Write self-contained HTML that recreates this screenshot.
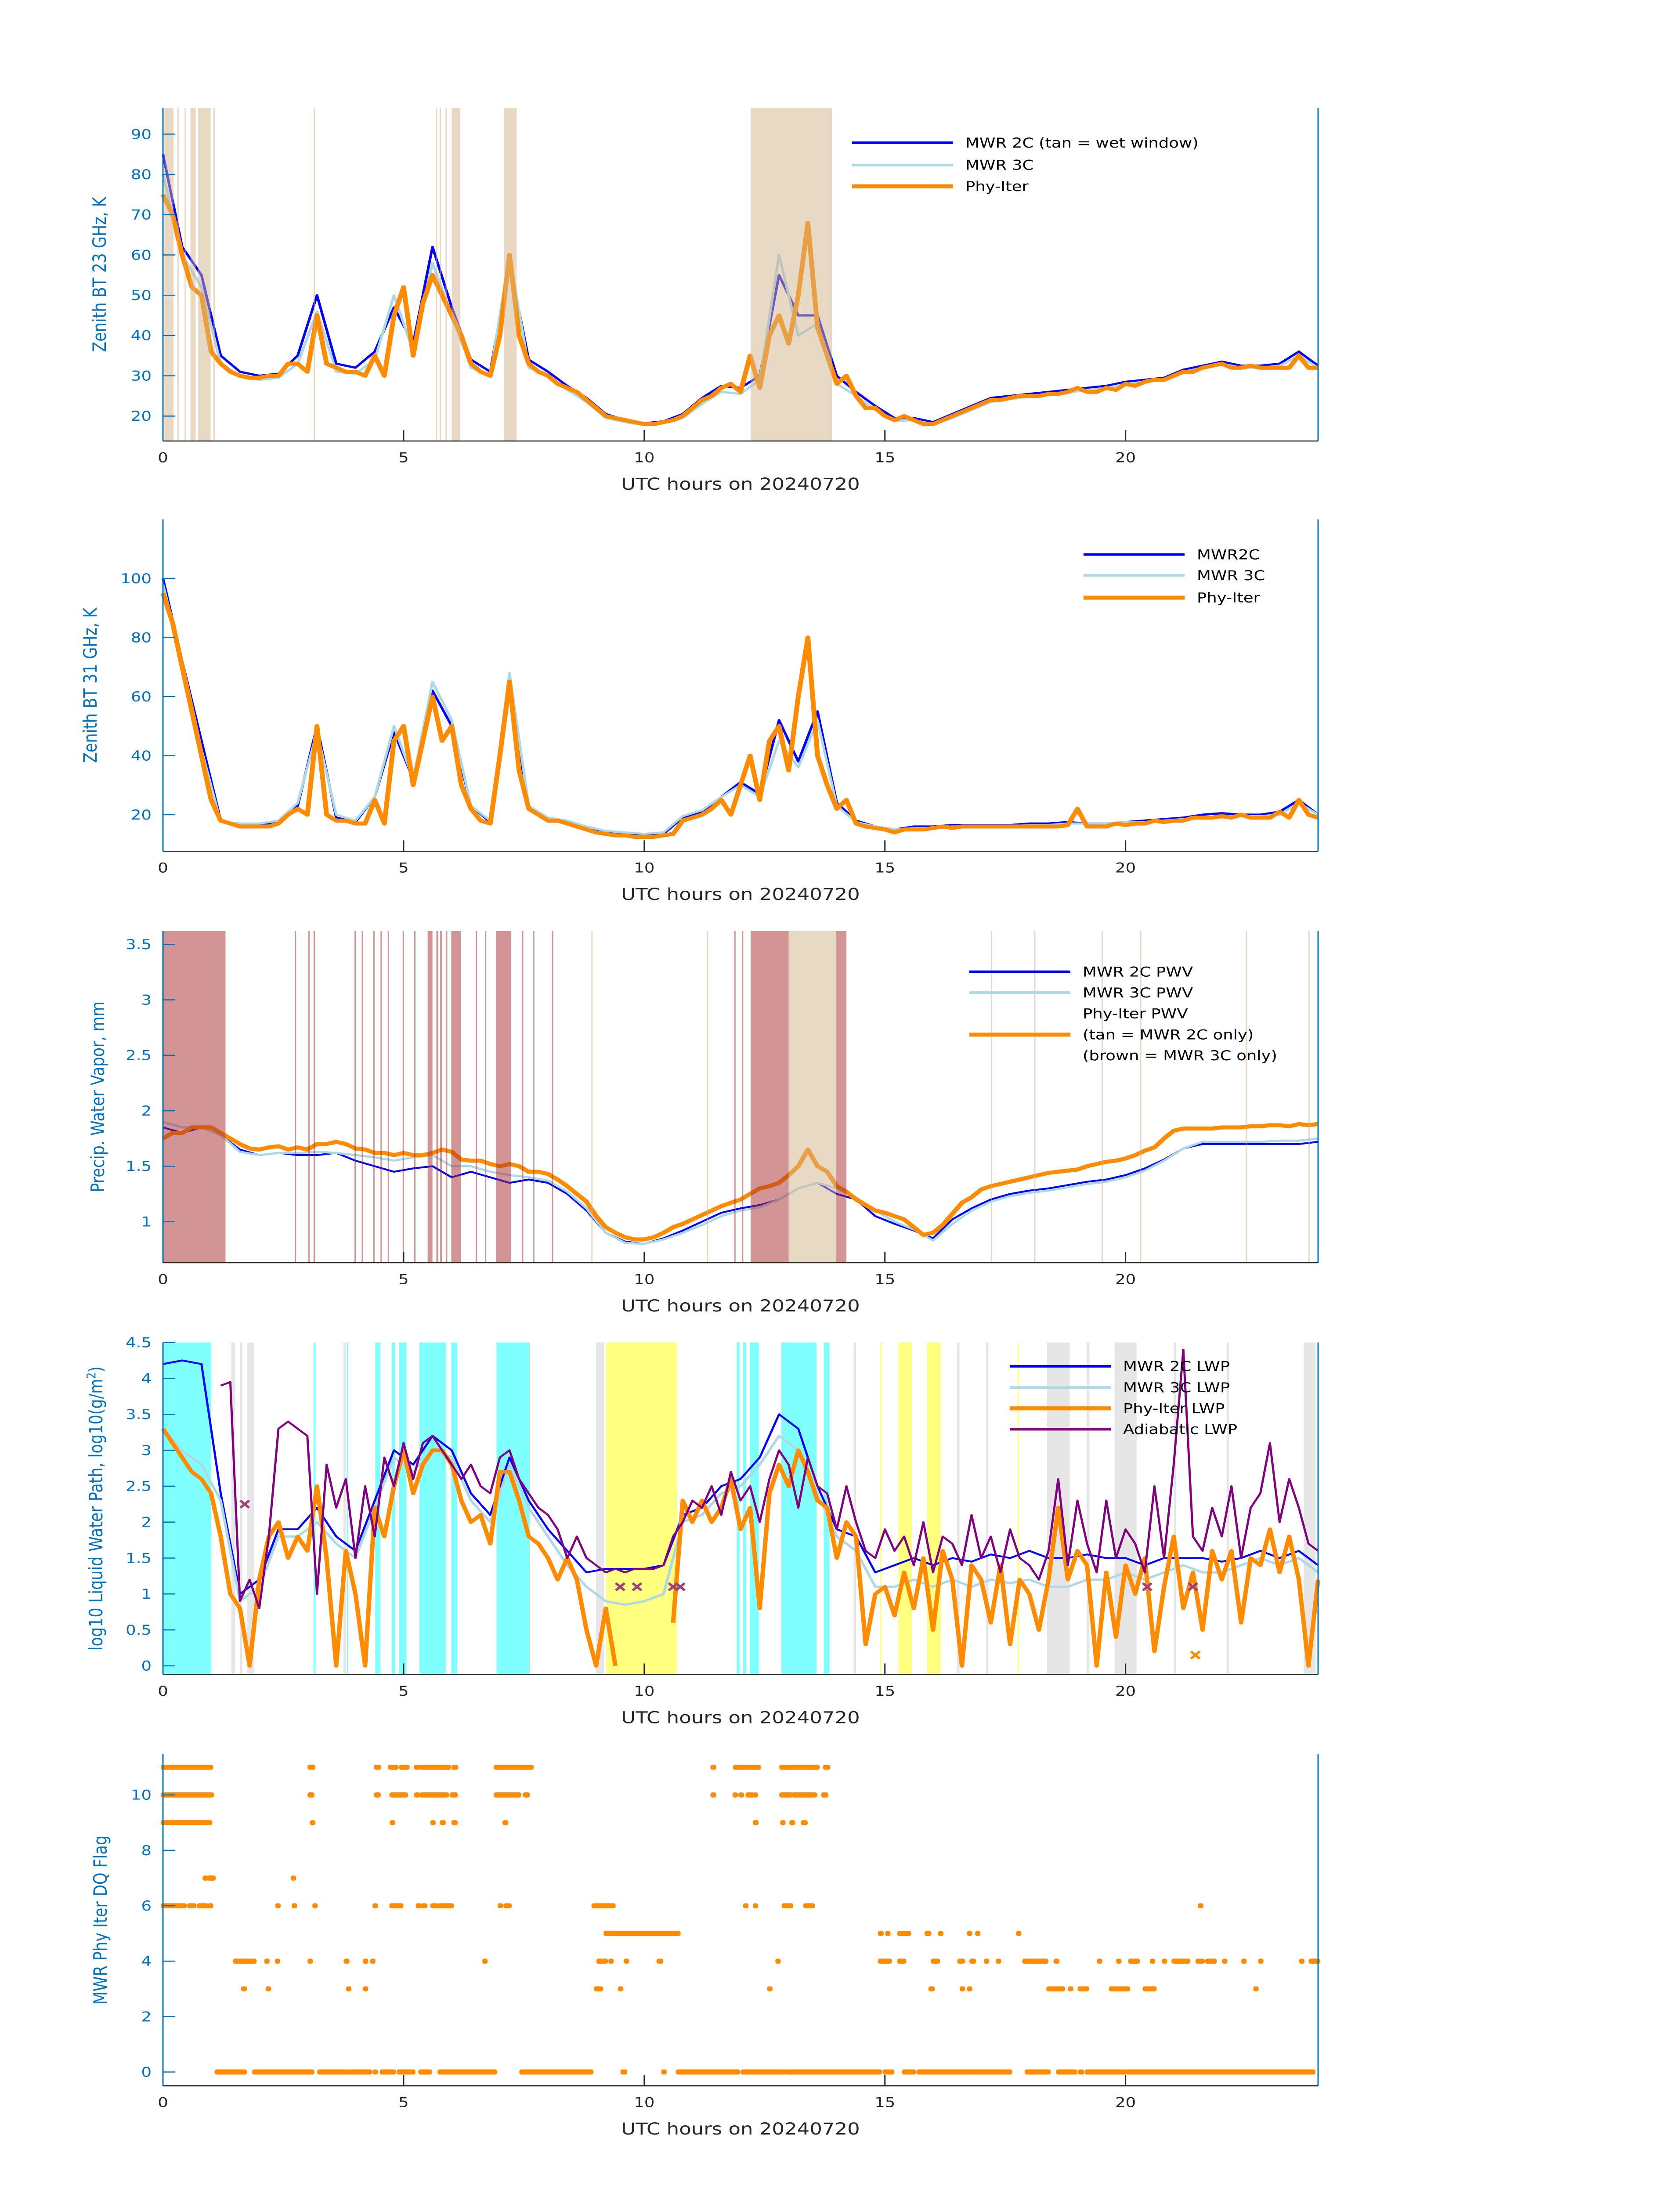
<!DOCTYPE html>
<html><head><meta charset="utf-8"><title>MWR Phy-Iter 20240720</title>
<style>html,body{margin:0;padding:0;background:#fff;width:100vw;height:100vh;overflow:hidden}svg{display:block;overflow:hidden;width:100vw;height:100vh}text{font-family:"DejaVu Sans","Liberation Sans",sans-serif}</style></head>
<body>
<svg id="fig" xmlns="http://www.w3.org/2000/svg" viewBox="0 0 3825 6000" preserveAspectRatio="none"></svg>
<script>
// ---------- DATA (time step 0.2 h for Phy-Iter / adiabatic, 0.4 h for MWR 2C/3C) ----------
const xTicks=[0,5,10,15,20];
const bt23Ticks=[20,30,40,50,60,70,80,90];
const bt31Ticks=[20,40,60,80,100];
const pwvTicks=[1,1.5,2,2.5,3,3.5];
const lwpTicks=[0,0.5,1,1.5,2,2.5,3,3.5,4,4.5];
const flagTicks=[0,2,4,6,8,10];

const bt23Phy=[75,70,60,52,50,36,33,31,30,29.5, 29.5,30,30,33,33,31,45,33,32,31, 31,30,35,30,45,52,35,48,55,50, 45,40,33,31,30,40,60,40,33,31, 30,28,27,26,24,22,20,19.5,19,18.5, 18,18,18.5,19,20,22,24,25,27,28, 26,35,27,40,45,38,50,68,42,35, 28,30,25,22,22,20,19,20,19,18, 18,19,20,21,22,23,24,24,24.5,25, 25,25,25.5,25.5,26,27,26,26,27,26.5, 28,27.5,28.5,29,29,30,31,31,32,32.5, 33,32,32,32.5,32,32,32,32,35,32, 32];
const bt23C2=[85,62,55,35,31,30,30.5,35,50,33, 32,36,47,38,62,47,34,31,58,34, 31,27.5,24.5,20.5,19,18.2,18.7,20.5,24.5,27.5, 27,30,55,45,45,30,26,22.5,19.5,19.5, 18.5,20.5,22.5,24.5,25,25.5,26,26.5,27,27.5, 28.5,29,29.5,31.5,32.5,33.5,32.5,32.5,33,36, 32.5];
const bt23C3=[80,60,52,33,30,29,29.5,33,46,31, 30.5,34,50,36,58,45,32,30,60,32, 30,26.5,23.5,19.5,18.5,17.8,18.3,19.5,23,26, 25.5,29,60,40,43,28,25,21.5,18.8,19, 18,19.5,21.5,23.5,24.2,24.8,25.2,25.8,26.5,27, 28,28.5,29,31,32,33,32,32,32.5,35, 32];

const bt31Phy=[95,85,70,55,40,25,18,17,16,16, 16,16,17,20,22,20,50,20,18,18, 17,17,25,17,45,50,30,45,60,45, 50,30,22,18,17,40,65,35,22,20, 18,18,17,16,15,14,13.5,13,13,12.5, 12.5,12.5,13,13.5,18,19,20,22,25,20, 30,40,25,45,50,35,60,80,40,30, 22,25,17,16,15.5,15,14,15,15,15, 15.5,16,15.5,16,16,16,16,16,16,16, 16,16,16,16,16.5,22,16,16,16,17, 16.5,17,17,18,17.5,18,18,19,19,19, 19.5,19,20,19,19,19,21,19,25,20, 19];
const bt31C2=[100,72,45,18,16.5,16.5,17.5,23,50,19, 17.5,26,48,32,62,50,23,17.5,62,22, 18.5,17.5,15.5,14,13.5,13,13.5,19,21,26, 31,27,52,38,55,24,18,16,15,16, 16,16.5,16.5,16.5,16.5,17,17,17.5,17,17, 17.5,18,18.5,19,20,20.5,20,20,21,25, 20];
const bt31C3=[98,72,42,17.5,17,17,18,24,48,20, 18,26,50,32,65,52,23,18,68,23, 19,18,16,14.5,14,13.5,14,19.5,21.5,26, 30,26,45,36,52,23,17.5,16,15,15.5, 15.5,16,16,16,16,16.5,16.5,17,17,17, 17.5,17.5,18,18.5,19,19.5,19.5,19.5,20,24, 20];

const pwvPhy=[1.75,1.8,1.8,1.85,1.85,1.85,1.8,1.75,1.7,1.66, 1.65,1.67,1.68,1.65,1.67,1.65,1.7,1.7,1.72,1.7, 1.66,1.65,1.62,1.62,1.6,1.62,1.6,1.6,1.62,1.65, 1.63,1.56,1.55,1.55,1.52,1.5,1.52,1.5,1.45,1.45, 1.43,1.38,1.32,1.25,1.18,1.05,0.95,0.9,0.86,0.84, 0.84,0.86,0.9,0.95,0.98,1.02,1.06,1.1,1.14,1.17, 1.2,1.25,1.3,1.32,1.35,1.42,1.5,1.65,1.5,1.45, 1.32,1.27,1.2,1.15,1.1,1.08,1.05,1.02,0.95,0.88, 0.9,0.97,1.07,1.17,1.22,1.29,1.32,1.34,1.36,1.38, 1.4,1.42,1.44,1.45,1.46,1.47,1.5,1.52,1.54,1.55, 1.57,1.6,1.64,1.67,1.75,1.82,1.84,1.84,1.84,1.84, 1.85,1.85,1.85,1.86,1.86,1.87,1.87,1.86,1.88,1.87, 1.88];
const pwvC2=[1.85,1.8,1.85,1.78,1.65,1.6,1.62,1.6,1.6,1.62, 1.55,1.5,1.45,1.48,1.5,1.4,1.45,1.4,1.35,1.38, 1.35,1.25,1.1,0.9,0.82,0.8,0.85,0.92,1.0,1.08, 1.12,1.15,1.2,1.3,1.35,1.25,1.2,1.05,0.98,0.92, 0.85,1.02,1.12,1.2,1.25,1.28,1.3,1.33,1.36,1.38, 1.42,1.48,1.56,1.66,1.7,1.7,1.7,1.7,1.7,1.7, 1.72];
const pwvC3=[1.9,1.85,1.85,1.78,1.63,1.6,1.62,1.62,1.63,1.62, 1.6,1.58,1.55,1.58,1.6,1.5,1.5,1.45,1.42,1.4, 1.37,1.27,1.12,0.9,0.81,0.8,0.84,0.9,0.97,1.05, 1.1,1.13,1.2,1.3,1.35,1.3,1.22,1.1,1.0,0.93, 0.83,0.98,1.1,1.18,1.23,1.26,1.28,1.31,1.34,1.36, 1.4,1.46,1.55,1.66,1.72,1.72,1.72,1.72,1.73,1.73, 1.75];

const lwpPhy=[3.3,3.1,2.9,2.7,2.6,2.4,1.8,1.0,0.8,0.0, 1.2,1.8,2.0,1.5,1.8,1.6,2.5,1.5,0.0,1.6, 1.0,0.0,2.2,1.8,2.5,3.0,2.4,2.8,3.0,3.0, 2.8,2.3,2.0,2.1,1.7,2.7,2.7,2.3,1.8,1.7, 1.5,1.2,1.5,1.2,0.5,0.0,0.8,0.0,null,null, null,null,null,0.6,2.3,2.0,2.3,2.0,2.2,2.6, 1.9,2.2,0.8,2.4,2.8,2.5,3.0,2.7,2.3,2.2, 1.5,2.0,1.8,0.3,1.0,1.1,0.7,1.3,0.8,1.5, 0.5,1.6,1.2,0.0,1.4,1.2,0.6,1.4,0.3,1.2, 1.0,0.5,1.2,2.2,1.2,1.6,1.4,0.0,1.3,0.4, 1.4,1.0,1.5,0.2,1.1,1.8,0.8,1.3,0.5,1.6, 1.2,1.6,0.6,1.5,1.4,1.9,1.3,1.8,1.2,0.0, 1.2];
const lwpC2=[4.2,4.25,4.2,2.4,1.0,1.2,1.9,1.9,2.2,1.8, 1.6,2.3,3.0,2.8,3.2,3.0,2.4,2.1,2.9,2.3, 1.9,1.6,1.3,1.35,1.35,1.35,1.4,2.1,2.2,2.5, 2.6,2.9,3.5,3.3,2.5,1.9,1.8,1.3,1.4,1.5, 1.4,1.5,1.45,1.55,1.5,1.6,1.5,1.5,1.55,1.5, 1.5,1.4,1.5,1.5,1.5,1.45,1.5,1.6,1.5,1.6, 1.4];
const lwpC3=[3.3,3.0,2.8,2.3,0.9,1.1,1.8,1.8,2.0,1.7, 1.5,2.2,2.9,2.7,3.0,2.9,2.3,2.0,2.8,2.2, 1.8,1.4,1.1,0.9,0.85,0.9,1.0,2.0,2.1,2.4, 2.5,2.8,3.2,3.0,2.4,1.8,1.6,1.1,1.1,1.2, 1.1,1.2,1.1,1.2,1.15,1.2,1.1,1.1,1.2,1.2, 1.3,1.2,1.3,1.4,1.3,1.3,1.4,1.5,1.4,1.5, 1.3];
const lwpAdiab=[null,null,null,null,null,null,3.9,3.95,0.9,1.2, 0.8,1.8,3.3,3.4,3.3,3.2,1.0,2.8,2.2,2.6, 1.5,2.5,1.8,2.9,2.5,3.1,2.6,3.1,3.2,3.0, 2.8,2.6,2.8,2.5,2.4,2.9,3.0,2.6,2.4,2.2, 2.1,1.9,1.5,1.8,1.5,1.4,1.3,1.35,1.3,1.35, 1.35,1.35,1.4,1.8,2.0,2.3,2.2,2.5,2.1,2.7, 2.3,2.5,2.0,2.6,3.0,2.8,2.2,2.9,2.5,2.4, 1.9,2.5,2.0,1.6,1.5,1.9,1.6,1.8,1.4,2.0, 1.3,1.8,1.7,1.4,2.1,1.5,1.8,1.3,1.9,1.5, 1.4,1.2,1.6,2.6,1.4,2.3,1.7,1.3,2.3,1.5, 1.9,1.7,1.3,2.5,1.5,2.8,4.4,1.8,1.6,2.2, 1.8,2.5,1.5,2.2,2.4,3.1,2.0,2.6,2.2,1.7, 1.6];
const lwpCrossT=[1.7,9.5,9.85,10.6,10.75,20.45,21.4];
const lwpCrossV=[2.25,1.1,1.1,1.1,1.1,1.1,1.1];
const lwpCrossOT=[21.45];
const lwpCrossOV=[0.15];

// shading bands [start,end] in hours
const wet23=[[0.03,0.22],[0.3,0.31],[0.45,0.46],[0.57,0.68],[0.73,0.99],[1.05,1.06],[3.13,3.15],[5.67,5.69],[5.75,5.77],[5.87,5.89],[6.0,6.18],[7.09,7.35],[12.21,13.9]];
const pwvBrown=[[0,1.3],[2.74,2.76],[3.02,3.04],[3.13,3.15],[3.98,4.0],[4.13,4.15],[4.37,4.39],[4.52,4.54],[4.67,4.69],[4.98,5.0],[5.22,5.24],[5.5,5.6],[5.68,5.72],[5.76,5.8],[5.88,5.9],[5.99,6.19],[6.5,6.52],[6.69,6.71],[6.92,7.23],[7.46,7.48],[7.69,7.71],[8.08,8.1],[11.87,11.89],[12.03,12.05],[12.21,13.0],[13.99,14.2]];
const pwvTan=[[13.0,13.99],[8.9,8.91],[11.3,11.31],[17.2,17.21],[18.1,18.11],[19.5,19.51],[20.3,20.31],[22.5,22.51],[23.8,23.81]];
const lwpCyan=[[0,1.0],[3.13,3.17],[3.82,3.84],[4.41,4.52],[4.75,4.82],[4.9,5.06],[5.33,5.88],[5.99,6.11],[6.93,7.62],[11.92,11.98],[12.05,12.12],[12.2,12.38],[12.85,13.58],[13.73,13.85]];
const lwpYellow=[[9.21,10.68],[14.9,14.93],[15.28,15.56],[15.87,16.16],[17.76,17.78]];
const lwpGrey=[[1.42,1.5],[1.6,1.65],[1.75,1.89],[3.75,3.8],[9.0,9.16],[14.35,14.4],[16.5,16.55],[17.1,17.15],[18.37,18.84],[19.2,19.25],[19.77,20.23],[21.0,21.05],[22.1,22.15],[23.7,23.95]];

// DQ flag spans per level, [start,end] hours
const flag11=[[0,1.0],[3.05,3.12],[4.43,4.49],[4.72,4.85],[4.95,5.08],[5.26,5.3],[5.37,5.94],[6.04,6.09],[6.92,7.66],[11.42,11.45],[11.89,11.95],[11.98,12.1],[12.15,12.38],[12.85,13.6],[13.76,13.82]];
const flag10=[[0,1.02],[3.05,3.1],[4.43,4.48],[4.75,5.05],[5.26,5.3],[5.37,5.9],[6.0,6.08],[6.92,7.4],[7.52,7.58],[11.42,11.45],[11.88,11.9],[12.0,12.03],[12.15,12.25],[12.3,12.32],[12.85,13.05],[13.1,13.55],[13.72,13.78]];
const flag9=[[0,0.98],[3.1,3.12],[4.76,4.78],[5.6,5.62],[5.8,5.83],[6.04,6.08],[7.1,7.13],[12.3,12.33],[12.87,12.89],[13.06,13.09],[13.3,13.35]];
const flag7=[[0.87,0.89],[0.95,1.05],[2.7,2.72]];
const flag6=[[0,0.35],[0.4,0.45],[0.55,0.65],[0.75,0.9],[0.97,1.0],[2.38,2.4],[2.72,2.74],[3.15,3.17],[4.4,4.42],[4.75,4.95],[5.3,5.33],[5.4,5.45],[5.6,5.68],[5.75,6.0],[7.0,7.02],[7.12,7.2],[8.95,9.3],[9.34,9.36],[12.1,12.12],[12.3,12.32],[12.9,13.05],[13.35,13.5],[21.55,21.57]];
const flag5=[[9.2,10.71],[14.9,14.93],[15.05,15.07],[15.3,15.5],[15.87,15.92],[16.15,16.17],[16.75,16.77],[16.92,16.94],[17.77,17.79]];
const flag4=[[1.5,1.55],[1.6,1.9],[2.15,2.17],[2.37,2.39],[3.05,3.07],[3.8,3.83],[4.2,4.22],[4.35,4.37],[6.68,6.7],[9.05,9.2],[9.3,9.32],[9.62,9.64],[10.3,10.35],[12.77,12.79],[14.9,15.1],[15.3,15.4],[16.0,16.1],[16.55,16.62],[16.8,16.85],[17.1,17.12],[17.35,17.37],[17.9,18.35],[18.55,18.58],[19.45,19.47],[19.85,19.87],[20.1,20.25],[20.55,20.57],[20.8,20.82],[21.0,21.3],[21.5,21.6],[21.7,21.85],[22.05,22.07],[22.45,22.47],[22.8,22.82],[23.65,23.67],[23.85,24.0]];
const flag3=[[1.67,1.7],[2.18,2.2],[3.85,3.87],[4.2,4.22],[9.0,9.1],[9.5,9.52],[12.6,12.62],[15.95,15.99],[16.6,16.62],[16.75,16.77],[18.4,18.7],[18.85,18.87],[19.05,19.2],[19.7,20.05],[20.4,20.6],[22.7,22.72]];
const flag0=[[1.12,1.7],[1.9,3.1],[3.25,3.85],[3.9,4.3],[4.4,4.42],[4.55,4.8],[4.9,5.2],[5.35,5.55],[5.75,6.9],[7.45,8.9],[9.55,9.6],[10.4,10.42],[10.7,11.95],[12.05,12.9],[12.95,14.9],[15.0,15.15],[15.4,15.6],[15.7,16.7],[16.75,17.6],[17.95,18.4],[18.6,18.95],[19.05,19.1],[19.2,20.0],[20.05,23.9]];

// ---------- RENDERING ----------
const NS='http://www.w3.org/2000/svg';
const svg=document.getElementById('fig');
const X0=371,X1=3001;
const BLUEAX='#0072BD';
function mk(tag,attrs,parent){const e=document.createElementNS(NS,tag);for(const k in attrs)e.setAttribute(k,attrs[k]);(parent||svg).appendChild(e);return e;}
function xs(t){return X0+(t/24)*(X1-X0);}
function makeY(top,bot,ymin,ymax){return v=>bot-(v-ymin)/(ymax-ymin)*(bot-top);}

function axes(name,top,bot,y,ticks,ylabel,labelX){
  const g=mk('g',{});
  
  
  const l=mk('line',{x1:X0,y1:top,x2:X0,y2:bot,stroke:BLUEAX,'stroke-width':3},g);
  
  
  const r=mk('line',{x1:X1,y1:top,x2:X1,y2:bot,stroke:BLUEAX,'stroke-width':3},g);
  
  
  const b=mk('line',{x1:X0,y1:bot,x2:X1,y2:bot,stroke:'#262626','stroke-width':3},g);
  
  
  ticks.forEach(v=>{
    const yy=y(v);
    const tk=mk('line',{x1:X0,y1:yy,x2:X0+28,y2:yy,stroke:BLUEAX,'stroke-width':3},g);
    
    
    const tx=mk('text',{x:345,y:yy+13,'font-size':37,fill:BLUEAX,'text-anchor':'end'},g);
    
    
    tx.textContent=String(v);
  });
  xTicks.forEach(t=>{
    const xx=xs(t);
    if(t>0){const tk=mk('line',{x1:xx,y1:bot,x2:xx,y2:bot-30,stroke:'#262626','stroke-width':3},g);
    
    }
    const tx=mk('text',{x:xx,y:bot+58,'font-size':37,fill:'#262626','text-anchor':'middle'},g);
    
    
    tx.textContent=String(t);
  });
  const xl=mk('text',{x:1686,y:bot+133,'font-size':45,fill:'#262626','text-anchor':'middle'},g);
  
  
  xl.textContent='UTC hours on 20240720';
  const cy=(top+bot)/2;
  const yl=mk('text',{x:labelX,y:cy,'font-size':42,fill:BLUEAX,'text-anchor':'middle',transform:`rotate(-90 ${labelX} ${cy})`},g);
  
  
  if(typeof ylabel==='string'){yl.textContent=ylabel;}
  else{yl.textContent=ylabel[0];const sp=mk('tspan',{'font-size':28,dy:-16},yl);sp.textContent='2';const s2=mk('tspan',{dy:16},yl);s2.textContent=ylabel[1];}
}
function bands(name,arr,y0,y1,color,op,parent){
  arr.forEach(b=>{
    const x=xs(b[0]),w=Math.max(3,xs(b[1])-x);
    const r=mk('rect',{x:x,y:y0,width:w,height:y1-y0,fill:color,'fill-opacity':op},parent);
    
    
  });
}
function series(name,vals,step,y,color,width,opacity){
  let d='',pen=false;
  vals.forEach((v,i)=>{
    if(v===null||v===undefined){pen=false;return;}
    d+=(pen?'L':'M')+xs(i*step).toFixed(1)+' '+y(v).toFixed(1)+' ';pen=true;
  });
  const p=mk('path',{d:d,fill:'none',stroke:color,'stroke-width':width,'stroke-linejoin':'round','stroke-opacity':opacity||1});
  
  
}
function legend(name,x,rows){
  const g=mk('g',{});
  
  
  rows.forEach(r=>{
    if(r.color){const l=mk('line',{x1:x,y1:r.y,x2:x+230,y2:r.y,stroke:r.color,'stroke-width':r.w},g);
      
      }
    const t=mk('text',{x:x+258,y:r.y+13,'font-size':37,fill:'#000'},g);
    
    
    t.textContent=r.label;
  });
}
function cross(name,t,v,y,color){
  const x=xs(t),yy=y(v),s=10;
  const p=mk('path',{d:`M${x-s} ${yy-s}L${x+s} ${yy+s}M${x-s} ${yy+s}L${x+s} ${yy-s}`,stroke:color,'stroke-width':6});
  
  
}

// Panel 1: BT 23 GHz
{const top=295,bot=1205,y=makeY(top,bot,13.8,96.5);
 series('bt23-mwr2c-line',bt23C2,0.4,y,'#0000ff',6);
 series('bt23-mwr3c-line',bt23C3,0.4,y,'#add8e6',6);
 series('bt23-phyiter-line',bt23Phy,0.2,y,'#ff8c00',11);
 bands('wet-window-band',wet23,top,bot,'#d2b48c',0.5);
 axes('bt23',top,bot,y,bt23Ticks,'Zenith BT 23 GHz, K',241);
 legend('bt23-legend',1940,[{y:390,color:'#0000ff',w:7,label:'MWR 2C (tan = wet window)'},{y:451,color:'#add8e6',w:7,label:'MWR 3C'},{y:509,color:'#ff8c00',w:11,label:'Phy-Iter'}]);}

// Panel 2: BT 31 GHz
{const top=1419,bot=2326,y=makeY(top,bot,7.6,120);
 series('bt31-mwr2c-line',bt31C2,0.4,y,'#0000ff',6);
 series('bt31-mwr3c-line',bt31C3,0.4,y,'#add8e6',6);
 series('bt31-phyiter-line',bt31Phy,0.2,y,'#ff8c00',11);
 axes('bt31',top,bot,y,bt31Ticks,'Zenith BT 31 GHz, K',220);
 legend('bt31-legend',2467,[{y:1515,color:'#0000ff',w:7,label:'MWR2C'},{y:1572,color:'#add8e6',w:7,label:'MWR 3C'},{y:1633,color:'#ff8c00',w:11,label:'Phy-Iter'}]);}

// Panel 3: PWV
{const top=2544,bot=3450,y=makeY(top,bot,0.63,3.62);
 series('pwv-mwr2c-line',pwvC2,0.4,y,'#0000ff',5);
 series('pwv-mwr3c-line',pwvC3,0.4,y,'#add8e6',6);
 series('pwv-phyiter-line',pwvPhy,0.2,y,'#ff8c00',11);
 bands('pwv-brown-band',pwvBrown,top,bot,'#a52a2a',0.5);
 bands('pwv-tan-band',pwvTan,top,bot,'#d2b48c',0.5);
 axes('pwv',top,bot,y,pwvTicks,'Precip. Water Vapor, mm',237);
 legend('pwv-legend',2207,[{y:2655,color:'#0000ff',w:7,label:'MWR 2C PWV'},{y:2712,color:'#add8e6',w:7,label:'MWR 3C PWV'},{y:2769,label:'Phy-Iter PWV'},{y:2827,color:'#ff8c00',w:11,label:'(tan = MWR 2C only)'},{y:2884,label:'(brown = MWR 3C only)'}]);}

// Panel 4: LWP
{const top=3668,bot=4575,y=makeY(top,bot,-0.12,4.5);
 bands('lwp-cyan-band',lwpCyan,top,bot,'#80ffff',1);
 bands('lwp-yellow-band',lwpYellow,top,bot,'#ffff80',1);
 bands('lwp-grey-band',lwpGrey,top,bot,'#e6e6e6',1);
 series('lwp-mwr2c-line',lwpC2,0.4,y,'#0000ff',5);
 series('lwp-mwr3c-line',lwpC3,0.4,y,'#add8e6',6);
 series('lwp-phyiter-line',lwpPhy,0.2,y,'#ff8c00',10);
 series('lwp-adiabatic-line',lwpAdiab,0.2,y,'#800080',5);
 lwpCrossT.forEach((t,i)=>cross('lwp-adiabatic-marker',t,lwpCrossV[i],y,'#a0407a'));
 lwpCrossOT.forEach((t,i)=>cross('lwp-phyiter-marker',t,lwpCrossOV[i],y,'#ff8c00'));
 axes('lwp',top,bot,y,lwpTicks,['log10 Liquid Water Path, log10(g/m',')'],233);
 legend('lwp-legend',2299,[{y:3733,color:'#0000ff',w:7,label:'MWR 2C LWP'},{y:3791,color:'#add8e6',w:7,label:'MWR 3C LWP'},{y:3848,color:'#ff8c00',w:11,label:'Phy-Iter LWP'},{y:3905,color:'#800080',w:7,label:'Adiabatic LWP'}]);}

// Panel 5: DQ flag
{const top=4793,bot=5699,y=makeY(top,bot,-0.5,11.47);
 const levels=[[11,flag11],[10,flag10],[9,flag9],[7,flag7],[6,flag6],[5,flag5],[4,flag4],[3,flag3],[0,flag0]];
 levels.forEach(L=>{
   L[1].forEach(s=>{
     const x=xs(s[0])-5,w=Math.max(10,xs(s[1])-xs(s[0])+10);
     const r=mk('rect',{x:x,y:y(L[0])-7,width:w,height:14,rx:5,fill:'#ff8c00'});
     
     
   });
 });
 axes('dqflag',top,bot,y,flagTicks,'MWR Phy Iter DQ Flag',243);}
</script>
</body></html>
